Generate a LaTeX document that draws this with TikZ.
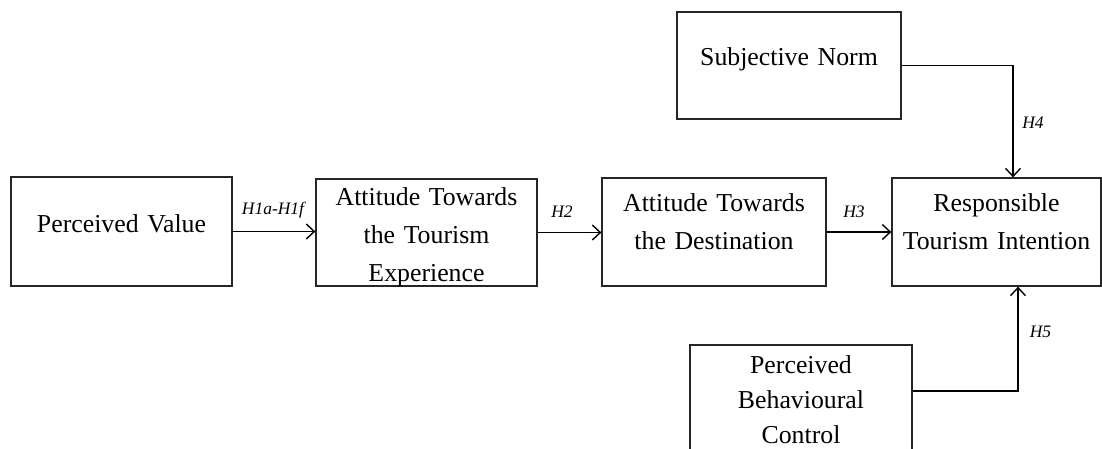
\documentclass[tikz,border=0pt]{standalone}
\usepackage{fontspec}
\setmainfont{Liberation Serif}
\usetikzlibrary{arrows.meta,calc}
\begin{document}
\begin{tikzpicture}[x=1pt,y=-1pt,
 box/.style={draw=black!85,line width=1.3pt,rectangle,inner sep=0pt},
 txt/.style={font=\fontsize{25.8}{38}\selectfont,align=center,anchor=base,inner sep=0pt,text width=215pt},
 txtb/.style={txt,font=\fontsize{25.8}{35}\selectfont},
 lab/.style={font=\fontsize{17.5}{19}\selectfont\itshape,inner sep=0pt},
 arr/.style={line width=1.4pt,-{Straight Barb[length=8pt,width=15pt,line width=1.4pt]}}]
\useasboundingbox (0,0) rectangle (1102,448);
% boxes
\node[box,minimum width=221pt,minimum height=109pt] (pv) at (121.5,231.5) {};
\node[box,minimum width=221pt,minimum height=107pt] (ate) at (426.5,232.5) {};
\node[box,minimum width=224pt,minimum height=108pt] (atd) at (714,232) {};
\node[box,minimum width=209pt,minimum height=108pt] (rti) at (996.5,232) {};
\node[box,minimum width=224pt,minimum height=107pt] (sn) at (789,65.5) {};
\node[box,minimum width=222pt,minimum height=115pt] (pbc) at (801,402.5) {};
% texts
\node[txt] (pvt) at (121.5,232) {Perceived Value};
\node[txt] (atet) at (426.5,205) {Attitude Towards\\the Tourism\\Experience};
\node[txt] (atdt) at (714,211) {Attitude Towards\\the Destination};
\node[txt] (rtit) at (996.5,211) {Responsible\\Tourism Intention};
\node[txt] (snt) at (789,65) {Subjective Norm};
\node[txtb] (pbct) at (801,373) {Perceived\\Behavioural\\Control};
% connectors
\draw[arr] (pv.east) -- (pv.east -| ate.west);
\draw[arr] (ate.east) -- (ate.east -| atd.west);
\draw[arr] (atd.east) -- (atd.east -| rti.west);
\draw[arr] (sn.east) -| ($(rti.north)+(16.5,0)$);
\draw[arr] ($(pbc.north east)+(0,46.7)$) -| ($(rti.south)+(21.5,0)$);
% labels
\node[lab] (l1) at (273,210) {H1a-H1f};
\node[lab] (l2) at (562,212) {H2};
\node[lab] (l3) at (854,212) {H3};
\node[lab] (l4) at (1033,123) {H4};
\node[lab] (l5) at (1040.5,332) {H5};
\end{tikzpicture}
\end{document}
